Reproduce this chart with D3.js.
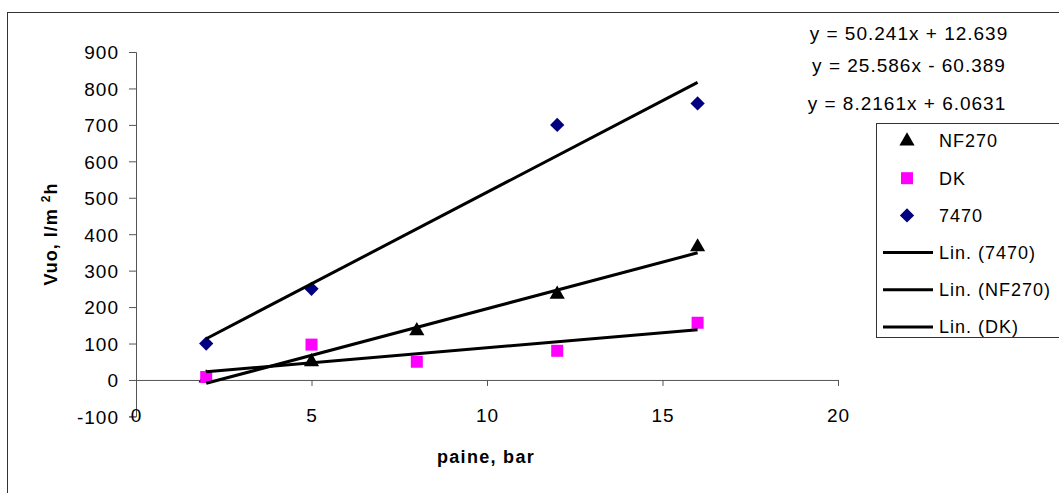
<!DOCTYPE html>
<html>
<head>
<meta charset="utf-8">
<script src="https://cdn.jsdelivr.net/npm/d3@7"></script>
<style>
  body { margin: 0; background: #fff; }
  svg { display: block; font-family: "Liberation Sans", Arial, sans-serif; }
</style>
</head>
<body>
<svg id="chart" width="1059" height="493"></svg>
<script>
// ---------- data ----------
const xNF270 = [2, 5, 8, 12, 16];
const yNF270 = [5, 50, 135, 235, 365];
const xDK = [2, 5, 8, 12, 16];
const yDK = [8, 97, 50, 80, 157];
const x7470 = [2, 5, 12, 16];
const y7470 = [100, 250, 700, 759];

// trendline coefficients (slope, intercept) as printed on the chart
const trendNames = ["7470", "NF270", "DK"];
const trendSlopes = [50.241, 25.586, 8.2161];
const trendIntercepts = [12.639, -60.389, 6.0631];
const trendLabels = ["y = 50.241x + 12.639", "y = 25.586x - 60.389", "y = 8.2161x + 6.0631"];
const trendRange = [2, 16];

const xTicks = [0, 5, 10, 15, 20];
const yTicks = [-100, 0, 100, 200, 300, 400, 500, 600, 700, 800, 900];

const legendLabels = ["NF270", "DK", "7470", "Lin. (7470)", "Lin. (NF270)", "Lin. (DK)"];

// ---------- chart ----------
const svg = d3.select("#chart");
const x = d3.scaleLinear().domain([0, 20]).range([136, 838]);
const y = d3.scaleLinear().domain([-100, 900]).range([416.4, 52]);

// outer border
svg.append("rect").attr("x", 7.5).attr("y", 12.5).attr("width", 1100).attr("height", 600)
  .attr("fill", "none").attr("stroke", "#333").attr("stroke-width", 1);

const axisColor = "#555";
const fmt = d => String(d);
// y axis
const gy = svg.append("g").attr("transform", `translate(${x(0)},0)`)
  .call(d3.axisLeft(y).tickValues(yTicks).tickSize(7).tickPadding(10).tickFormat(fmt));
gy.select(".domain").attr("stroke", axisColor);
gy.selectAll(".tick line").attr("stroke", axisColor);
gy.selectAll(".tick text").attr("font-size", 19).attr("fill", "#000").attr("letter-spacing", "1px")
  .attr("dy", "0.36em");

// x axis (crosses at y=0)
const gx = svg.append("g").attr("transform", `translate(0,${y(0)})`)
  .call(d3.axisBottom(x).tickValues(xTicks).tickSize(6).tickFormat(fmt));
gx.select(".domain").attr("stroke", axisColor);
gx.selectAll(".tick line").attr("stroke", axisColor);
gx.selectAll(".tick text").attr("font-size", 19).attr("fill", "#000").attr("letter-spacing", "1px")
  .attr("y", y(-100) - y(0) + 6).attr("dy", 0);

// axis titles
svg.append("text").attr("x", 486).attr("y", 463).attr("text-anchor", "middle")
  .attr("font-size", 18).attr("font-weight", "bold").attr("letter-spacing", "1.3px").text("paine, bar");
const yt = svg.append("text").attr("transform", "translate(57,234) rotate(-90)")
  .attr("text-anchor", "middle").attr("font-size", 18).attr("font-weight", "bold").attr("letter-spacing", "1px");
yt.append("tspan").text("Vuo, l/m ");
yt.append("tspan").attr("font-size", 12).attr("dy", -7).text("2");
yt.append("tspan").attr("dy", 7).text("h");

// markers
const sym = (type, size) => d3.symbol().type(type).size(size)();
svg.append("g").selectAll("path").data(x7470.map((d, i) => [d, y7470[i]])).join("path")
  .attr("d", sym(d3.symbolDiamond2, 130)).attr("fill", "#000080")
  .attr("transform", d => `translate(${x(d[0])},${y(d[1])})`);
svg.append("g").selectAll("path").data(xNF270.map((d, i) => [d, yNF270[i]])).join("path")
  .attr("d", sym(d3.symbolTriangle, 100)).attr("fill", "#000")
  .attr("transform", d => `translate(${x(d[0])},${y(d[1])})`);
svg.append("g").selectAll("rect").data(xDK.map((d, i) => [d, yDK[i]])).join("rect")
  .attr("x", d => x(d[0]) - 6).attr("y", d => y(d[1]) - 6).attr("width", 12).attr("height", 12)
  .attr("fill", "#ff00ff");

// trendlines
svg.append("g").selectAll("line").data(trendSlopes.map((s, i) => [s, trendIntercepts[i]])).join("line")
  .attr("x1", x(trendRange[0])).attr("x2", x(trendRange[1]))
  .attr("y1", d => y(d[0] * trendRange[0] + d[1]))
  .attr("y2", d => y(d[0] * trendRange[1] + d[1]))
  .attr("stroke", "#000").attr("stroke-width", 3);

// equations
const eqPos = [[909, 40], [909, 72], [907, 110]];
svg.append("g").selectAll("text").data(trendLabels).join("text")
  .attr("x", (d, i) => eqPos[i][0]).attr("y", (d, i) => eqPos[i][1])
  .attr("text-anchor", "middle").attr("font-size", 19).attr("letter-spacing", "1px").text(d => d);

// legend
svg.append("rect").attr("x", 876.5).attr("y", 123.5).attr("width", 300).attr("height", 214)
  .attr("fill", "#fff").attr("stroke", "#333").attr("stroke-width", 1);
const lg = svg.append("g");
const rowY = i => 141 + i * 37.2;
legendLabels.forEach((lab, i) => {
  const cy = rowY(i);
  if (i === 0) lg.append("path").attr("d", sym(d3.symbolTriangle, 100)).attr("fill", "#000")
    .attr("transform", `translate(907,${cy})`);
  if (i === 1) lg.append("rect").attr("x", 901).attr("y", cy - 6).attr("width", 12).attr("height", 12).attr("fill", "#ff00ff");
  if (i === 2) lg.append("path").attr("d", sym(d3.symbolDiamond2, 130)).attr("fill", "#000080")
    .attr("transform", `translate(907,${cy})`);
  if (i >= 3) lg.append("line").attr("x1", 883).attr("x2", 933).attr("y1", cy).attr("y2", cy)
    .attr("stroke", "#000").attr("stroke-width", 3);
  lg.append("text").attr("x", 939).attr("y", cy).attr("dy", "0.36em")
    .attr("font-size", 18).attr("letter-spacing", "1px").text(lab);
});
</script>
</body>
</html>
